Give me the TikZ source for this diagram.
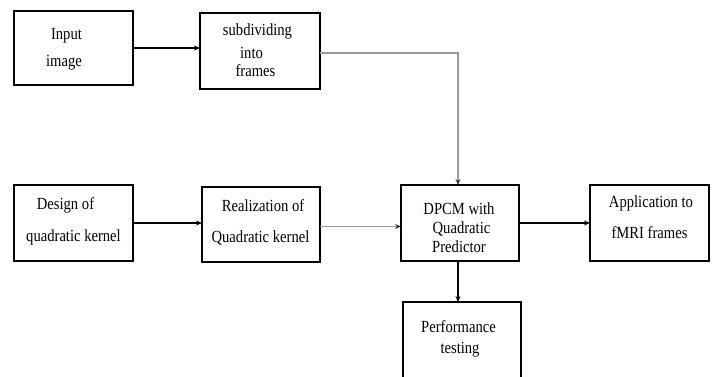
\documentclass[tikz,border=0pt]{standalone}
\usepackage{fontspec}
\setmainfont[FakeStretch=0.86]{Liberation Serif}
\usetikzlibrary{arrows.meta}
\begin{document}
\begin{tikzpicture}[x=1pt,y=-1pt,
  box/.style={draw=black, line width=1.5pt, inner sep=0pt, outer sep=0pt},
  lbl/.style={font=\fontsize{17}{19}\selectfont, anchor=base, inner sep=0pt, text=black},
  conn/.style={line width=1.4pt, -{Stealth[length=6pt,width=5pt]}},
  connG/.style={line width=1.8pt, draw=black!40, -{Stealth[length=6pt,width=5pt,color=black!80]}}]
\useasboundingbox (0,0) rectangle (717,376);
\fill[white] (0,0) rectangle (717,376);
% boxes
\node[box, minimum width=119pt, minimum height=74pt] (inp)  at (73.5,48) {};
\node[box, minimum width=120pt, minimum height=76pt] (sub)  at (260,51) {};
\node[box, minimum width=119pt, minimum height=76pt] (des)  at (73.5,223) {};
\node[box, minimum width=118pt, minimum height=75pt] (rea)  at (261,224.5) {};
\node[box, minimum width=118pt, minimum height=76pt] (dpcm) at (460,223) {};
\node[box, minimum width=119pt, minimum height=76pt] (app)  at (649.5,223) {};
\node[box, minimum width=118pt, minimum height=90pt] (perf) at (462,347) {};
% texts
\node[lbl] (t1a) at (66.5,39) {Input};
\node[lbl] (t1b) at (64,66) {image};
\node[lbl] (t2a) at (257.5,35) {subdividing};
\node[lbl] (t2b) at (251.5,58) {into};
\node[lbl] (t2c) at (255.5,76) {frames};
\node[lbl] (t3a) at (65.5,209) {Design of};
\node[lbl] (t3b) at (73.5,241) {quadratic kernel};
\node[lbl] (t4a) at (263,211) {Realization of};
\node[lbl] (t4b) at (260.5,242) {Quadratic kernel};
\node[lbl] (t5a) at (459,214) {DPCM with};
\node[lbl] (t5b) at (461.5,233) {Quadratic};
\node[lbl] (t5c) at (459,252) {Predictor};
\node[lbl] (t6a) at (651,207) {Application to};
\node[lbl] (t6b) at (649.5,238) {fMRI frames};
\node[lbl] (t7a) at (458.5,332) {Performance};
\node[lbl] (t7b) at (460,353) {testing};
% connectors
\draw[conn] (inp.east) -- (inp.east -| sub.west);
\draw[connG] ([yshift=-2pt]sub.east) -| ([xshift=-2pt]dpcm.north);
\draw[conn] (des.east) -- (des.east -| rea.west);
\draw[connG] ([yshift=-2pt]rea.east) -- ([yshift=-2pt]rea.east -| dpcm.west);
\draw[conn] (dpcm.east) -- (dpcm.east -| app.west);
\draw[conn] ([xshift=-2pt]dpcm.south) -- ([xshift=-2pt]dpcm.south |- perf.north);
\end{tikzpicture}
\end{document}
